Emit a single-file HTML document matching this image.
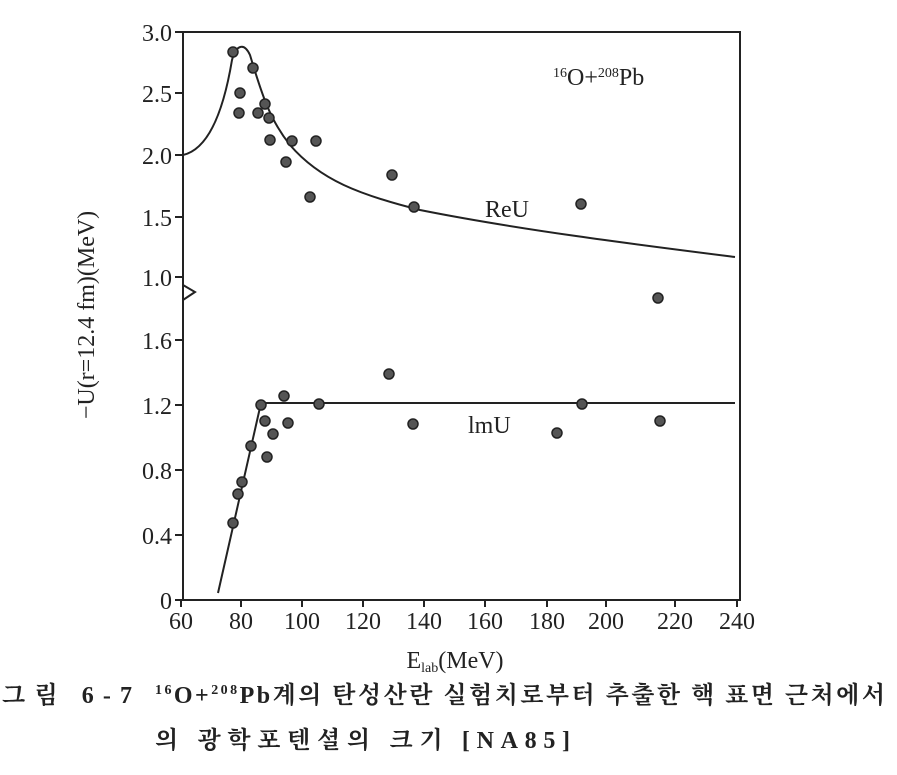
<!DOCTYPE html><html><head><meta charset="utf-8"><style>
body{margin:0;background:#fff;width:897px;height:770px;overflow:hidden}
text{font-family:"Liberation Serif","Noto Serif CJK SC",serif;fill:#222}
.k{font-family:"Liberation Serif","Noto Serif CJK KR",serif;font-weight:bold}
</style></head><body>
<svg width="897" height="770" viewBox="0 0 897 770" xmlns="http://www.w3.org/2000/svg">
<g stroke="#222" stroke-width="2" fill="none">
<path d="M183,32 H740 V600 H183 V285 L195,292 L183,300 V32"/>
<path d="M183,32 H175 M183,93 H175 M183,155 H175 M183,217 H175 M183,277 H175 M183,340 H175 M183,405 H175 M183,470 H175 M183,535 H175 M183,600 H175"/>
<path d="M181,600 v7 M241,600 v7 M302,600 v7 M363,600 v7 M424,600 v7 M485,600 v7 M547,600 v7 M606,600 v7 M675,600 v7 M737,600 v7"/>
<path d="M183,155 C205,150 222,120 232,60 C236,45 244,42 250,55 C262,95 270,120 290,145 C320,180 360,195 420,210 C520,230 640,245 735,257"/>
<path d="M218,593 L261,403 H735"/>
</g>
<g fill="#555" stroke="#222" stroke-width="1.5">
<circle cx="233" cy="52" r="5"/><circle cx="240" cy="93" r="5"/><circle cx="239" cy="113" r="5"/><circle cx="253" cy="68" r="5"/><circle cx="258" cy="113" r="5"/><circle cx="265" cy="104" r="5"/><circle cx="269" cy="118" r="5"/><circle cx="270" cy="140" r="5"/><circle cx="286" cy="162" r="5"/><circle cx="292" cy="141" r="5"/><circle cx="310" cy="197" r="5"/><circle cx="316" cy="141" r="5"/><circle cx="392" cy="175" r="5"/><circle cx="414" cy="207" r="5"/><circle cx="581" cy="204" r="5"/><circle cx="658" cy="298" r="5"/>
<circle cx="233" cy="523" r="5"/><circle cx="238" cy="494" r="5"/><circle cx="242" cy="482" r="5"/><circle cx="251" cy="446" r="5"/><circle cx="261" cy="405" r="5"/><circle cx="265" cy="421" r="5"/><circle cx="267" cy="457" r="5"/><circle cx="273" cy="434" r="5"/><circle cx="284" cy="396" r="5"/><circle cx="288" cy="423" r="5"/><circle cx="319" cy="404" r="5"/><circle cx="389" cy="374" r="5"/><circle cx="413" cy="424" r="5"/><circle cx="557" cy="433" r="5"/><circle cx="582" cy="404" r="5"/><circle cx="660" cy="421" r="5"/>
</g>
<g font-size="24" text-anchor="end">
<text x="172" y="41">3.0</text><text x="172" y="102">2.5</text><text x="172" y="164">2.0</text><text x="172" y="226">1.5</text><text x="172" y="286">1.0</text><text x="172" y="349">1.6</text><text x="172" y="414">1.2</text><text x="172" y="479">0.8</text><text x="172" y="544">0.4</text><text x="172" y="609">0</text>
</g>
<g font-size="24" text-anchor="middle">
<text x="181" y="629">60</text><text x="241" y="629">80</text><text x="302" y="629">100</text><text x="363" y="629">120</text><text x="424" y="629">140</text><text x="485" y="629">160</text><text x="547" y="629">180</text><text x="606" y="629">200</text><text x="675" y="629">220</text><text x="737" y="629">240</text>
<text x="455" y="668">E<tspan font-size="14" dy="4">lab</tspan><tspan dy="-4">(MeV)</tspan></text>
</g>
<text font-size="24" transform="translate(94,315) rotate(-90)" text-anchor="middle">−U(r=12.4 fm)(MeV)</text>
<text x="553" y="85" font-size="24"><tspan font-size="14" dy="-8">16</tspan><tspan dy="8">O+</tspan><tspan font-size="14" dy="-8">208</tspan><tspan dy="8">Pb</tspan></text>
<text x="485" y="217" font-size="24">ReU</text>
<text x="468" y="433" font-size="24">lmU</text>
<text class="k" x="2" y="703" font-size="24" textLength="130" lengthAdjust="spacing">그림 6-7</text>
<text class="k" x="155" y="703" font-size="24" textLength="730" lengthAdjust="spacing"><tspan font-size="14" dy="-9">16</tspan><tspan dy="9">O+</tspan><tspan font-size="14" dy="-9">208</tspan><tspan dy="9">Pb계의 탄성산란 실험치로부터 추출한 핵 표면 근처에서</tspan></text>
<text class="k" x="155" y="748" font-size="24" textLength="415" lengthAdjust="spacing">의 광학포텐셜의 크기 [NA85]</text>
</svg></body></html>
